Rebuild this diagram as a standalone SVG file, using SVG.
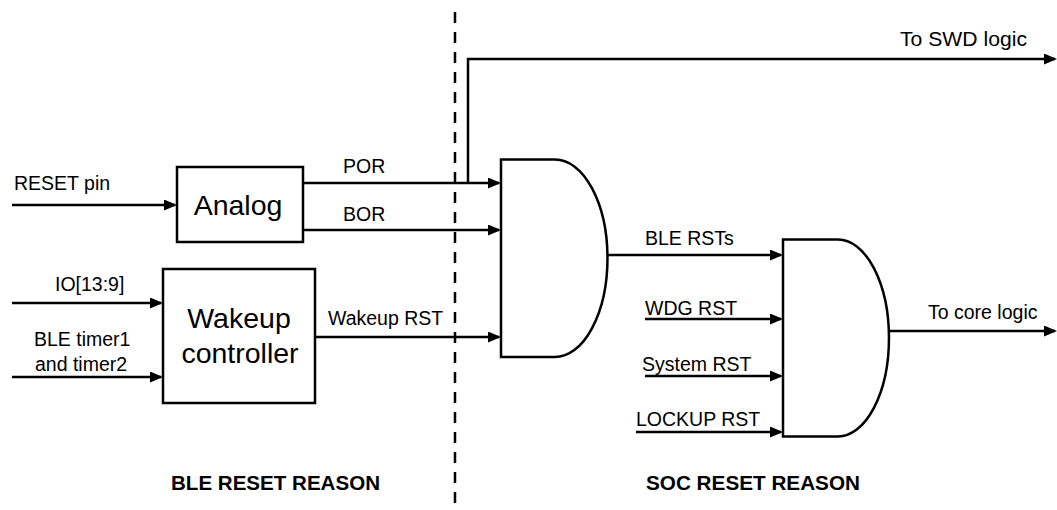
<svg xmlns="http://www.w3.org/2000/svg" width="1057" height="510" viewBox="0 0 1057 510">
<style>
.ln{fill:none;stroke:#000;stroke-width:2.5}
.bx{fill:#fff;stroke:#000;stroke-width:2.5}
.t{font-family:"Liberation Sans",Arial,sans-serif;font-size:19.5px;fill:#000}
.big{font-family:"Liberation Sans",Arial,sans-serif;font-size:28.5px;fill:#000}
.b{font-family:"Liberation Sans",Arial,sans-serif;font-size:19.5px;font-weight:bold;fill:#000}
</style>
<defs>
<marker id="ah" markerUnits="userSpaceOnUse" markerWidth="13" markerHeight="11" refX="11" refY="5.5" orient="auto">
<path d="M0,0 L13,5.5 L0,11 z" fill="#000"/>
</marker>
</defs>
<rect width="1057" height="510" fill="#fff"/>
<line x1="455" y1="12" x2="455" y2="510" stroke="#000" stroke-width="2.5" stroke-dasharray="11 9"/>
<g id="connectors">
<line class="ln" x1="12" y1="205" x2="175" y2="205" marker-end="url(#ah)"/>
<line class="ln" x1="12" y1="303" x2="161" y2="303" marker-end="url(#ah)"/>
<line class="ln" x1="12" y1="377" x2="161" y2="377" marker-end="url(#ah)"/>
<line class="ln" x1="303" y1="183" x2="499" y2="183" marker-end="url(#ah)"/>
<line class="ln" x1="303" y1="230" x2="499" y2="230" marker-end="url(#ah)"/>
<line class="ln" x1="315" y1="337" x2="499" y2="337" marker-end="url(#ah)"/>
<polyline class="ln" points="468,183 468,59 1055,59" marker-end="url(#ah)"/>
<line class="ln" x1="607" y1="255" x2="781" y2="255" marker-end="url(#ah)"/>
<line class="ln" x1="645" y1="319" x2="781" y2="319" marker-end="url(#ah)"/>
<line class="ln" x1="645" y1="376" x2="781" y2="376" marker-end="url(#ah)"/>
<line class="ln" x1="636" y1="432" x2="781" y2="432" marker-end="url(#ah)"/>
<line class="ln" x1="889" y1="331" x2="1055" y2="331" marker-end="url(#ah)"/>
<text class="t" x="343" y="173">POR</text>
<text class="t" x="343" y="221">BOR</text>
<text class="t" x="328" y="325">Wakeup RST</text>
<text class="t" x="900" y="46" textLength="127" lengthAdjust="spacingAndGlyphs">To SWD logic</text>
<text class="t" x="645" y="245">BLE RSTs</text>
<text class="t" x="645" y="315">WDG RST</text>
<text class="t" x="642" y="371">System RST</text>
<text class="t" x="636" y="426">LOCKUP RST</text>
<text class="t" x="928" y="319">To core logic</text>
</g>
<g id="inputs">
<text class="t" x="14" y="190">RESET pin</text>
<text class="t" x="55" y="291">IO[13:9]</text>
<text class="t" x="34" y="346">BLE timer1</text>
<text class="t" x="35" y="371">and timer2</text>
</g>
<g id="analog">
<rect class="bx" x="177" y="167" width="126" height="75"/>
<text class="big" x="238" y="215" text-anchor="middle">Analog</text>
</g>
<g id="wakeup">
<rect class="bx" x="163" y="269" width="152" height="134"/>
<text class="big" x="239" y="328" text-anchor="middle">Wakeup</text>
<text class="big" x="240" y="363" text-anchor="middle">controller</text>
</g>
<g id="gate1">
<path class="bx" d="M501,159.5 H555 A52.5,98.75 0 0 1 555,357 H501 Z"/>
</g>
<g id="gate2">
<path class="bx" d="M783,239.5 H838 A51,98.5 0 0 1 838,436.5 H783 Z"/>
</g>
<g id="labels">
<text class="b" x="171" y="490" textLength="209" lengthAdjust="spacingAndGlyphs">BLE RESET REASON</text>
<text class="b" x="646" y="490" textLength="214" lengthAdjust="spacingAndGlyphs">SOC RESET REASON</text>
</g>
</svg>
